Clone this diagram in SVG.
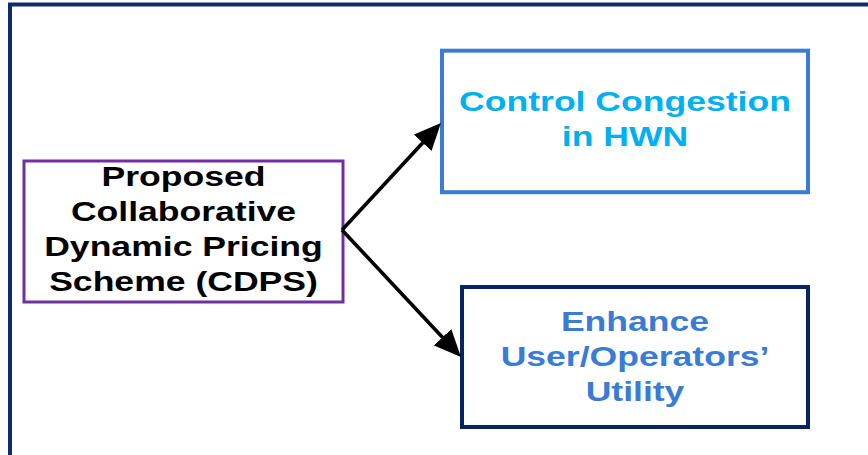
<svg xmlns="http://www.w3.org/2000/svg" width="868" height="455" viewBox="0 0 868 455">
  <style>
    .lbl { font-family: "Liberation Sans", Arial, sans-serif; font-weight: bold; font-size: 28px; text-anchor: middle; }
    .box { fill: #ffffff; }
    .conn { fill: none; stroke: #000000; stroke-width: 3.6; stroke-linecap: butt; }
  </style>
  <defs>
    <marker id="arrow" viewBox="0 0 27 24" refX="7" refY="12" markerWidth="27" markerHeight="24" markerUnits="userSpaceOnUse" orient="auto">
      <path d="M0,0 L27,12 L0,24 Z" fill="#000000"/>
    </marker>
  </defs>

  <rect width="868" height="455" fill="#ffffff"/>

  <!-- outer frame, runs off the right and bottom edges -->
  <rect id="frame" x="10" y="4.5" width="870" height="460" fill="none" stroke="#112B6A" stroke-width="4"/>

  <g id="cdps">
    <rect class="box" x="24" y="161" width="319" height="141" stroke="#7030A0" stroke-width="3"/>
    <g transform="translate(183.5 0) scale(1.27 1)" fill="#000000">
      <text class="lbl" x="0" y="186">Proposed</text>
      <text class="lbl" x="0" y="221">Collaborative</text>
      <text class="lbl" x="0" y="256">Dynamic Pricing</text>
      <text class="lbl" x="0" y="291">Scheme (CDPS)</text>
    </g>
  </g>

  <g id="congestion">
    <rect class="box" x="442" y="50.7" width="366" height="141.5" stroke="#3A7BD5" stroke-width="4"/>
    <g transform="translate(625 0) scale(1.27 1)" fill="#00B0F0">
      <text class="lbl" x="0" y="111">Control Congestion</text>
      <text class="lbl" x="0" y="146.5">in HWN</text>
    </g>
  </g>

  <g id="utility">
    <rect class="box" x="462" y="287" width="346" height="140" stroke="#0A2463" stroke-width="4"/>
    <g transform="translate(635 0) scale(1.27 1)" fill="#3A7BD5">
      <text class="lbl" x="0" y="331">Enhance</text>
      <text class="lbl" x="0" y="366.5">User/Operators’</text>
      <text class="lbl" x="0" y="401">Utility</text>
    </g>
  </g>

  <g id="connectors">
    <path class="conn" d="M342,230 L427.4,137.7" marker-end="url(#arrow)"/>
    <path class="conn" d="M342,230 L447.3,342.4" marker-end="url(#arrow)"/>
  </g>
</svg>
